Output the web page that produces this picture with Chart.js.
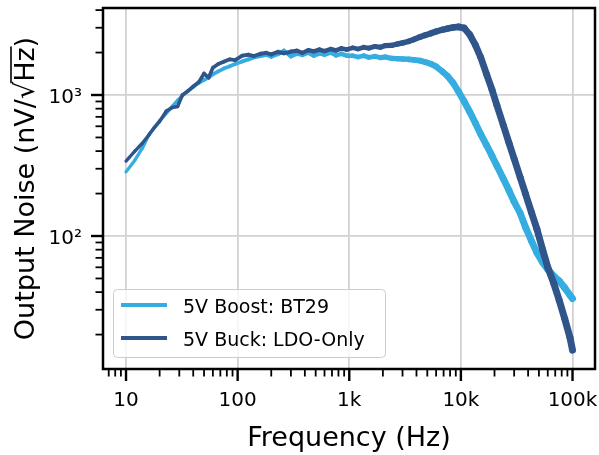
<!DOCTYPE html>
<html><head><meta charset="utf-8">
<script src="https://cdn.jsdelivr.net/npm/chart.js@4"></script>
<style>html,body{margin:0;padding:0;background:#fff}canvas{display:block}</style>
</head><body>
<canvas id="c" width="599" height="455"></canvas>
<script>
const freqs = [10,12,14,16,18,20,23,26,29,32,36,40,45,50,55,60,67,75,85,95,110,125,140,160,180,200,230,260,300,340,380,430,480,540,600,680,760,850,950,1070,1200,1350,1500,1700,1900,2100,2400,2700,3000,3400,3800,4300,4800,5400,6000,6800,7600,8500,9500,10700,12000,13500,15000,17000,19000,21000,24000,27000,30000,34000,38000,43000,48000,54000,60000,68000,76000,85000,95000,100000];
const boost = [285,345,420,520,590,655,745,830,915,990,1070,1140,1220,1280,1330,1400,1470,1540,1600,1660,1730,1790,1850,1890,1930,1870,1950,2060,1880,1960,1920,1990,1900,1970,1930,2000,1910,1960,1900,1900,1860,1900,1850,1880,1840,1860,1820,1810,1800,1790,1775,1750,1710,1660,1590,1470,1360,1220,1060,900,760,630,530,440,370,315,255,210,175,145,115,92,76,65,58,52,48,43,38,36];
const buck = [340,400,455,520,590,650,770,815,830,1000,1070,1150,1240,1420,1330,1560,1660,1720,1790,1770,1900,1930,1890,1960,1990,1940,2020,1980,2030,2060,1990,2080,2040,2100,2050,2120,2070,2140,2100,2160,2120,2180,2150,2210,2180,2240,2250,2300,2340,2400,2480,2580,2660,2740,2820,2900,2960,3010,3040,2980,2680,2260,1860,1400,1090,846,610,456,353,260,198,146,112,80,60,46,35,26,19,15.5];
const seriesLabels = ['5V Boost: BT29','5V Buck: LDO-Only'];
const xTickValues = [10,100,1000,10000,100000];
const xTickLabels = ['10','100','1k','10k','100k'];
const yTickValues = [100,1000];
const yTickLabels = ['10\u00B2','10\u00B3'];
const xTitle = 'Frequency (Hz)';
const yTitleMain = 'Output Noise (nV/';
const yTitleRoot = 'Hz';
const X_MIN = 6.22, X_MAX = 159000, Y_MIN = 11.4, Y_MAX = 4140;
const FONT = '"DejaVu Sans", sans-serif';
const C_BOOST = 'rgb(53,173,224)';
const C_BUCK = 'rgb(47,85,138)';

function decadeTicks(min, max) {
  const out = [];
  for (let e = Math.floor(Math.log10(min)); e <= Math.ceil(Math.log10(max)); e++) {
    for (let m = 1; m <= 9; m++) {
      const v = m * Math.pow(10, e);
      if (v >= min && v <= max) out.push(v);
    }
  }
  return out;
}
function isMajor(v) { const l = Math.log10(v); return Math.abs(l - Math.round(l)) < 1e-9; }
// line thickness grows with frequency to mimic the dense noise band
const W_STOPS = [[1, 3.3], [2, 3.8], [3, 4.6], [3.5, 5.6], [4, 6.8], [5.1, 7.0]];
function widthFor(f) {
  const l = Math.log10(f);
  for (let i = 1; i < W_STOPS.length; i++) {
    const [a, wa] = W_STOPS[i - 1], [b, wb] = W_STOPS[i];
    if (l <= b) return wa + (wb - wa) * (l - a) / (b - a);
  }
  return W_STOPS[W_STOPS.length - 1][1];
}

const deco = {
  id: 'deco',
  afterDraw(chart) {
    const ctx = chart.ctx, ca = chart.chartArea, xs = chart.scales.x, ys = chart.scales.y;
    ctx.save();
    ctx.strokeStyle = '#000';
    decadeTicks(X_MIN, X_MAX).forEach(v => {
      const p = xs.getPixelForValue(v), maj = isMajor(v);
      ctx.lineWidth = maj ? 2.4 : 1.8;
      ctx.beginPath(); ctx.moveTo(p, ca.bottom); ctx.lineTo(p, ca.bottom + (maj ? 12 : 7.5)); ctx.stroke();
    });
    decadeTicks(Y_MIN, Y_MAX).forEach(v => {
      const p = ys.getPixelForValue(v), maj = isMajor(v);
      ctx.lineWidth = maj ? 2.4 : 1.8;
      ctx.beginPath(); ctx.moveTo(ca.left, p); ctx.lineTo(ca.left - (maj ? 12 : 7.5), p); ctx.stroke();
    });
    ctx.lineWidth = 2.5;
    ctx.strokeRect(ca.left, ca.top, ca.right - ca.left, ca.bottom - ca.top);

    ctx.fillStyle = '#000';
    ctx.font = '20px ' + FONT;
    ctx.textAlign = 'center'; ctx.textBaseline = 'alphabetic';
    xTickValues.forEach((v, i) => ctx.fillText(xTickLabels[i], xs.getPixelForValue(v), ca.bottom + 37));
    ctx.textAlign = 'right';
    yTickValues.forEach((v, i) => ctx.fillText(yTickLabels[i], ca.left - 21, ys.getPixelForValue(v) + 8));

    ctx.font = '27px ' + FONT;
    ctx.textAlign = 'center';
    ctx.fillText(xTitle, (ca.left + ca.right) / 2, 446);

    ctx.save();
    ctx.translate(34, (ca.top + ca.bottom) / 2);
    ctx.rotate(-Math.PI / 2);
    ctx.textAlign = 'left';
    const pre = yTitleMain + '\u221A';
    const full = pre + yTitleRoot + ')';
    const w = ctx.measureText(full).width;
    const x0 = -w / 2;
    ctx.fillText(pre, x0, 0);
    const wPre = ctx.measureText(pre).width;
    const wRoot = ctx.measureText(yTitleRoot).width;
    ctx.fillText(yTitleRoot + ')', x0 + wPre, 0);
    ctx.lineWidth = 1.6;
    ctx.beginPath(); ctx.moveTo(x0 + wPre - 1.5, -23); ctx.lineTo(x0 + wPre + wRoot + 1, -23); ctx.stroke();
    ctx.restore();

    // legend
    const lx = 113.5, ly = 289.5, lw = 272, lh = 68;
    ctx.beginPath(); ctx.roundRect(lx, ly, lw, lh, 4);
    ctx.fillStyle = 'rgba(255,255,255,0.8)'; ctx.fill();
    ctx.strokeStyle = '#cccccc'; ctx.lineWidth = 1; ctx.stroke();
    const cols = [C_BOOST, C_BUCK];
    const rowsY = [305, 338];
    ctx.font = '19px ' + FONT; ctx.textAlign = 'left'; ctx.fillStyle = '#000';
    seriesLabels.forEach((lab, i) => {
      ctx.strokeStyle = cols[i]; ctx.lineWidth = 3.8;
      ctx.beginPath(); ctx.moveTo(121, rowsY[i]); ctx.lineTo(167, rowsY[i]); ctx.stroke();
      ctx.fillText(lab, 183, rowsY[i] + 7.5);
    });
    ctx.restore();
  }
};

const gridOpts = {
  color: c => (c.tick && isMajor(c.tick.value)) ? '#d2d2d2' : 'rgba(0,0,0,0)',
  lineWidth: 1.8, drawTicks: false
};

new Chart(document.getElementById('c'), {
  type: 'line',
  data: {
    datasets: [
      { label: seriesLabels[0], data: freqs.map((f, i) => ({ x: f, y: boost[i] })), borderColor: C_BOOST, order: 1,
        segment: { borderWidth: c => widthFor(freqs[c.p0DataIndex]) } },
      { label: seriesLabels[1], data: freqs.map((f, i) => ({ x: f, y: buck[i] })), borderColor: C_BUCK, order: 0,
        segment: { borderWidth: c => widthFor(freqs[c.p0DataIndex]) } }
    ]
  },
  options: {
    responsive: false, animation: false, devicePixelRatio: 1,
    layout: { padding: { left: 0, right: 4, top: 8, bottom: 0 } },
    plugins: { legend: { display: false }, tooltip: { enabled: false } },
    elements: { point: { radius: 0 }, line: { tension: 0, borderWidth: 3.5, borderJoinStyle: 'round', borderCapStyle: 'round' } },
    scales: {
      x: { type: 'logarithmic', min: X_MIN, max: X_MAX,
        afterBuildTicks: s => { s.ticks = decadeTicks(X_MIN, X_MAX).map(v => ({ value: v })); },
        afterFit: s => { s.height = 86; },
        ticks: { display: false }, grid: gridOpts, border: { display: false } },
      y: { type: 'logarithmic', min: Y_MIN, max: Y_MAX,
        afterBuildTicks: s => { s.ticks = decadeTicks(Y_MIN, Y_MAX).map(v => ({ value: v })); },
        afterFit: s => { s.width = 103; },
        ticks: { display: false }, grid: gridOpts, border: { display: false } }
    }
  },
  plugins: [deco]
});
</script>
</body></html>
